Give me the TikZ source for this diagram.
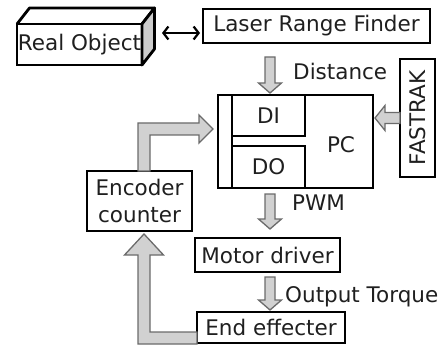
\documentclass[tikz,border=0pt]{standalone}
\usepackage{fontspec}
\setmainfont{DejaVu Sans}
\usetikzlibrary{arrows.meta, calc}

% hollow grey arrow pointing down: #1 start point, #2 shaft length
\newcommand{\fatdown}[2]{%
    \draw[fatArrow] (#1) ++(-5,0) -- ++(0,#2) -- ++(-6.5,0) -- ++(11.5,10)
        -- ++(11.5,-10) -- ++(-6.5,0) -- ++(0,-#2) -- cycle;}

\begin{document}
\begin{tikzpicture}[
        x=1pt, y=-1pt,
        every node/.style={font=\fontsize{21.5}{27}\selectfont, text=black!88},
        boxNode/.style={
            draw, line width=2.8pt, inner sep=0pt, outer sep=0pt,
            anchor=north west, align=center
        },
        fatArrow/.style={
            draw=black!58, line width=1.3pt, fill=black!18, line join=miter
        },
        plainLabel/.style={anchor=base west, inner sep=0pt},
        linkArrow/.style={
            {Straight Barb[length=5pt,width=13pt]}-{Straight Barb[length=5pt,width=13pt]},
            line width=2.2pt
        }
    ]
        \useasboundingbox (0,0) rectangle (445,345);

        % Object as a block
        \node (obj) [boxNode, minimum width=125, minimum height=41] at (17,24) {Real Object};
        \draw[line width=2.8pt, line join=round] (obj.north west) -- ++(12.5,-16) -- ++(125,0) -- (obj.north east);
        \filldraw[fill=black!20, line width=2.8pt, line join=round] (obj.north east) -- ++(12.5,-16) -- ++(0,41) -- (obj.south east) -- cycle;

        % Sensors and PC
        \node (lrf) [boxNode, minimum width=227, minimum height=34] at (203,9) {Laser Range Finder};
        \node (pc) [boxNode, minimum width=155, minimum height=93] at (218,95) {};
        \node (di) [boxNode, minimum width=73, minimum height=41] at (232,95) {DI};
        \node (do) [boxNode, minimum width=73, minimum height=42] at (232,146) {DO};
        \node (pcLabel) at (341,145) {PC};
        \node (fas) [boxNode, anchor=center, rotate=90, minimum width=118, minimum height=35] at (417.5,118) {FASTRAK};

        % Drive chain
        \node (enc) [boxNode, minimum width=105, minimum height=60] at (87,171) {Encoder\\counter};
        \node (mot) [boxNode, minimum width=145, minimum height=34] at (195,238) {Motor driver};
        \node (eff) [boxNode, minimum width=148, minimum height=31] at (197,312) {End effecter};

        % Signal names
        \node (distLabel) [plainLabel] at (293,80) {Distance};
        \node (pwmLabel) [plainLabel] at (292,210) {PWM};
        \node (torqueLabel) [plainLabel] at (285,302) {Output Torque};

        % Link between object and range finder
        \coordinate (objLink) at (162,33);
        \draw[linkArrow, shorten >=3pt] (objLink) -- (objLink -| lrf.west);

        % Signal flow
        \coordinate (distFrom) at (270,57);
        \coordinate (pwmFrom) at (270,194);
        \coordinate (torqueFrom) at (270,277);
        \fatdown{distFrom}{26}
        \fatdown{pwmFrom}{25}
        \fatdown{torqueFrom}{23}

        % fas.north is its left side after the rotation
        \draw[fatArrow] (fas.north) ++(0,-5.5) -- ++(-15,0) -- ++(0,-7) -- ++(-10,12.5)
            -- ++(10,12.5) -- ++(0,-7) -- ++(15,0) -- cycle;

        \draw[fatArrow] ($(enc.north west)+(51,0)$) -- ++(0,-48) -- ++(61,0) -- ++(0,-8)
            -- ++(14,14) -- ++(-14,14) -- ++(0,-8) -- ++(-49,0) -- ++(0,36) -- cycle;

        \draw[fatArrow] ($(eff.south west)+(0,-11)$) -- ++(-47,0) -- ++(0,-77) -- ++(13.5,0)
            -- ++(-19.5,-21) -- ++(-19.5,21) -- ++(13.5,0) -- ++(0,89) -- ++(59,0) -- cycle;

        \draw[line width=2.8pt] (di.north west) -- (do.south west);
    \end{tikzpicture}
\end{document}
